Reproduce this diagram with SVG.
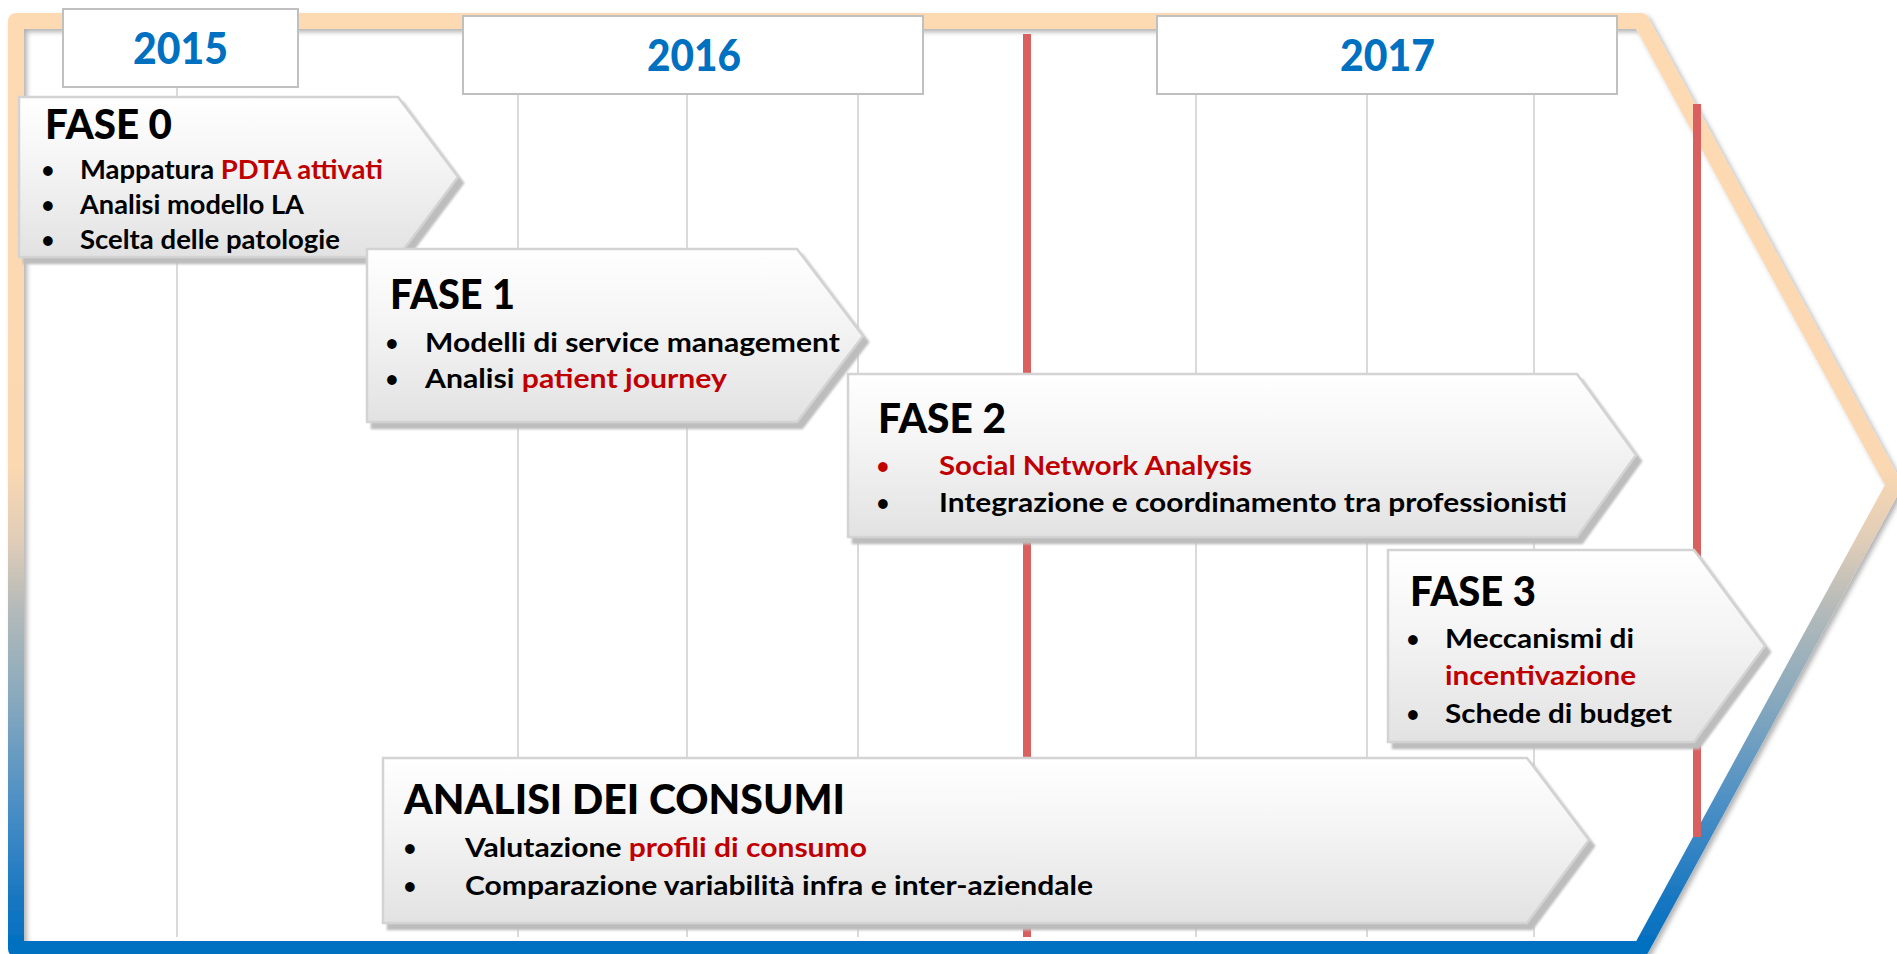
<svg xmlns="http://www.w3.org/2000/svg" width="1897" height="954" viewBox="0 0 1897 954">
<style>
.t{font-family:Lato,"Open Sans",sans-serif;font-weight:bold;fill:#000}
.title{font-size:41px;font-weight:900}
.b{font-size:26px}
.dot{font-family:Lato,"Open Sans",sans-serif;font-weight:bold;font-size:22px;fill:#000}
.yr{font-family:Lato,"Open Sans",sans-serif;font-weight:900;font-size:43px;fill:#0070C0}
.red{fill:#C00000}
.box{fill:url(#boxGrad);stroke:#D3D3D3;stroke-width:2.5;filter:url(#boxShadow)}
.ybox{fill:#FFFFFF;stroke:#C0C0C0;stroke-width:2}
.grid{stroke:#DADADA;stroke-width:2}
.redline{stroke:#DA5F5F;stroke-width:8}
</style>
<defs>
<linearGradient id="frameGrad" gradientUnits="userSpaceOnUse" x1="0" y1="21" x2="0" y2="949">
<stop offset="0" stop-color="#FDDAB2"/>
<stop offset="0.48" stop-color="#FBD8B1"/>
<stop offset="0.56" stop-color="#E0CDB8"/>
<stop offset="0.63" stop-color="#B6BBB9"/>
<stop offset="0.73" stop-color="#88A9BD"/>
<stop offset="0.84" stop-color="#4E90C5"/>
<stop offset="0.95" stop-color="#1676C1"/>
<stop offset="1" stop-color="#0070C0"/>
</linearGradient>
<linearGradient id="boxGrad" x1="0" y1="0" x2="0" y2="1">
<stop offset="0" stop-color="#FFFFFF"/>
<stop offset="0.4" stop-color="#F5F5F5"/>
<stop offset="1" stop-color="#E2E2E2"/>
</linearGradient>
<filter id="frameShadow" x="-5%" y="-5%" width="110%" height="110%">
<feDropShadow dx="3" dy="3" stdDeviation="2.5" flood-color="#000" flood-opacity="0.3"/>
</filter>
<filter id="boxShadow" x="-5%" y="-5%" width="115%" height="120%">
<feDropShadow dx="5" dy="6" stdDeviation="1" flood-color="#BDBDBD" flood-opacity="1"/>
</filter>
</defs>

<g id="frame">
<path d="M16,21 L1641,21 L1894,485 L1641,949 L16,949 Z" fill="none" stroke="url(#frameGrad)" stroke-width="16" stroke-linejoin="round" filter="url(#frameShadow)"/>
</g>

<g id="connectors">
<line class="grid" x1="177" y1="87" x2="177" y2="937"/>
<line class="grid" x1="518" y1="94" x2="518" y2="937"/>
<line class="grid" x1="687" y1="94" x2="687" y2="937"/>
<line class="grid" x1="858" y1="94" x2="858" y2="937"/>
<line class="grid" x1="1196" y1="93" x2="1196" y2="937"/>
<line class="grid" x1="1367" y1="93" x2="1367" y2="937"/>
<line class="grid" x1="1534" y1="93" x2="1534" y2="937"/>
<line class="redline" x1="1027" y1="34" x2="1027" y2="937"/>
<line class="redline" x1="1697" y1="104" x2="1697" y2="837"/>
</g>

<g id="year2015">
<rect class="ybox" x="63" y="9" width="235" height="78"/>
<text class="yr" x="133" y="64" textLength="95" lengthAdjust="spacingAndGlyphs">2015</text>
</g>
<g id="year2016">
<rect class="ybox" x="463" y="16" width="460" height="78"/>
<text class="yr" x="647" y="71" textLength="94" lengthAdjust="spacingAndGlyphs">2016</text>
</g>
<g id="year2017">
<rect class="ybox" x="1157" y="16" width="460" height="78"/>
<text class="yr" x="1340" y="71" textLength="95" lengthAdjust="spacingAndGlyphs">2017</text>
</g>

<g id="fase0">
<polygon class="box" points="19,97 398,97 458,177 398,257 19,257"/>
<text class="t title" x="45" y="139" textLength="127" lengthAdjust="spacingAndGlyphs">FASE 0</text>
<text class="dot" x="48" y="178" text-anchor="middle">•</text>
<text class="t b" x="80" y="179" textLength="303" lengthAdjust="spacingAndGlyphs">Mappatura <tspan class="red">PDTA attivati</tspan></text>
<text class="dot" x="48" y="213" text-anchor="middle">•</text>
<text class="t b" x="80" y="214" textLength="224" lengthAdjust="spacingAndGlyphs">Analisi modello LA</text>
<text class="dot" x="48" y="248" text-anchor="middle">•</text>
<text class="t b" x="80" y="249" textLength="260" lengthAdjust="spacingAndGlyphs">Scelta delle patologie</text>
</g>

<g id="fase1">
<polygon class="box" points="367,249 797,249 863,336 797,422 367,422"/>
<text class="t title" x="390" y="309" textLength="125" lengthAdjust="spacingAndGlyphs">FASE 1</text>
<text class="dot" x="392" y="351" text-anchor="middle">•</text>
<text class="t b" x="425" y="352" textLength="415" lengthAdjust="spacingAndGlyphs">Modelli di service management</text>
<text class="dot" x="392" y="387" text-anchor="middle">•</text>
<text class="t b" x="425" y="388" textLength="302" lengthAdjust="spacingAndGlyphs">Analisi <tspan class="red">patient journey</tspan></text>
</g>

<g id="fase2">
<polygon class="box" points="848,374 1577,374 1636,455 1577,537 848,537"/>
<text class="t title" x="878" y="433" textLength="128" lengthAdjust="spacingAndGlyphs">FASE 2</text>
<text class="dot red" x="883" y="474" text-anchor="middle">•</text>
<text class="t b red" x="939" y="475" textLength="313" lengthAdjust="spacingAndGlyphs">Social Network Analysis</text>
<text class="dot" x="883" y="511" text-anchor="middle">•</text>
<text class="t b" x="939" y="512" textLength="628" lengthAdjust="spacingAndGlyphs">Integrazione e coordinamento tra professionisti</text>
</g>

<g id="fase3">
<polygon class="box" points="1388,550 1694,550 1765,646 1694,742 1388,742"/>
<text class="t title" x="1410" y="606" textLength="126" lengthAdjust="spacingAndGlyphs">FASE 3</text>
<text class="dot" x="1413" y="647" text-anchor="middle">•</text>
<text class="t b" x="1445" y="648" textLength="189" lengthAdjust="spacingAndGlyphs">Meccanismi di</text>
<text class="t b red" x="1445" y="685" textLength="191" lengthAdjust="spacingAndGlyphs">incentivazione</text>
<text class="dot" x="1413" y="722" text-anchor="middle">•</text>
<text class="t b" x="1445" y="723" textLength="227" lengthAdjust="spacingAndGlyphs">Schede di budget</text>
</g>

<g id="analisi">
<polygon class="box" points="383,758 1527,758 1589,840 1527,923 383,923"/>
<text class="t title" x="404" y="814" textLength="441" lengthAdjust="spacingAndGlyphs">ANALISI DEI CONSUMI</text>
<text class="dot" x="410" y="856" text-anchor="middle">•</text>
<text class="t b" x="465" y="857" textLength="402" lengthAdjust="spacingAndGlyphs">Valutazione <tspan class="red">profili di consumo</tspan></text>
<text class="dot" x="410" y="894" text-anchor="middle">•</text>
<text class="t b" x="465" y="895" textLength="628" lengthAdjust="spacingAndGlyphs">Comparazione variabilità infra e inter-aziendale</text>
</g>
</svg>
